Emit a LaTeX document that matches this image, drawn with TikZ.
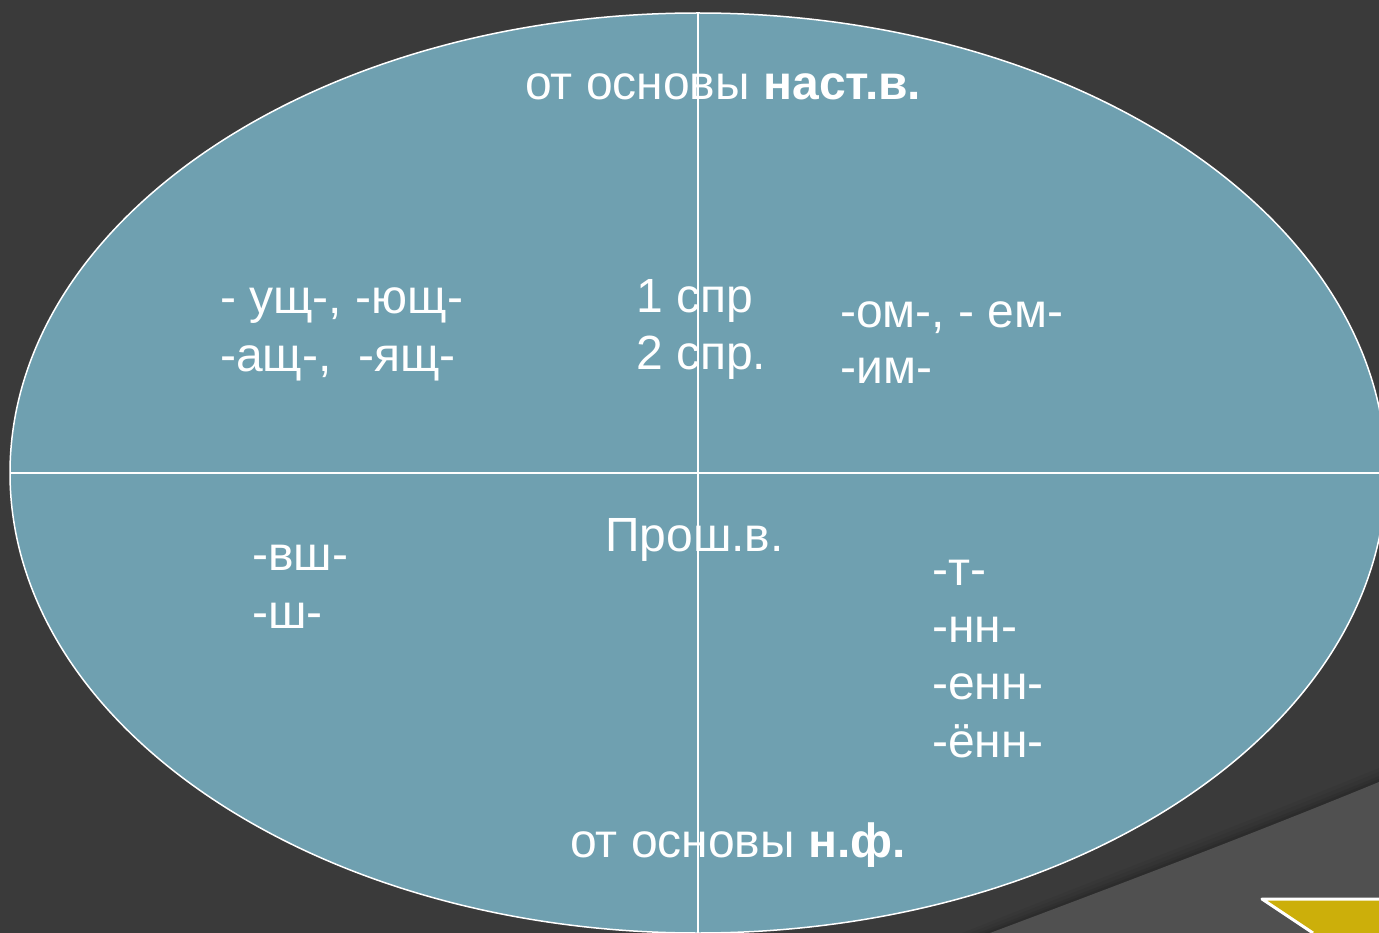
\documentclass[tikz,border=0pt]{standalone}
\usepackage{fontspec}
\setmainfont{Liberation Sans}
\definecolor{bgdark}{HTML}{3A3A3A}
\definecolor{swoosh}{HTML}{505050}
\definecolor{ellfill}{HTML}{6FA0B0}
\definecolor{triyellow}{HTML}{CCAF0A}
\tikzset{
  lbl/.style={anchor=base west, inner sep=0pt, text=white, font=\fontsize{48}{57}\selectfont},
  divider/.style={draw=white, line width=1.5pt},
}
\begin{document}
\begin{tikzpicture}[x=1pt,y=-1pt]
\useasboundingbox (0,0) rectangle (1379,933);
\clip (0,0) rectangle (1379,933);
% background
\fill[bgdark] (0,0) rectangle (1379,933);
% soft shadow above the swoosh
\foreach \d/\op in {14/0.04,10/0.05,6/0.06,3/0.07}{
  \fill[black, opacity=\op] (1379,782-\d) .. controls (1250,835-\d) and (1110,888-\d) .. (990-2*\d,933) -- (1379,933) -- cycle;
}
% lighter swoosh band
\fill[swoosh] (1379,782) .. controls (1250,835) and (1110,888) .. (990,933) -- (1379,933) -- cycle;
% triangle
\fill[triyellow] (1400,899) -- (1262,899) -- (1313,933) -- (1400,933) -- cycle;
\draw[white, line width=3pt, line join=round] (1400,899) -- (1262,899) -- (1313,933);
% ellipse
\fill[ellfill] (698,473) ellipse [x radius=688, y radius=460];
% texts
\node[lbl] (top) at (525,100) {от основы \textbf{наст.в.}};
\node[lbl] (l1) at (220,314) {- ущ-, -ющ-};
\node[lbl] (l2) at (220,371) {-ащ-,~~-ящ-};
\node[lbl] (c1) at (636,313) {1 спр};
\node[lbl] (c2) at (636,369) {2 спр.};
\node[lbl] (r1) at (840,327) {-ом-, - ем-};
\node[lbl] (r2) at (840,383) {-им-};
\node[lbl] (bl1) at (252,570) {-вш-};
\node[lbl] (bl2) at (252,628) {-ш-};
\node[lbl] (pr) at (605,551) {Прош.в.};
\node[lbl] (br1) at (932,585) {-т-};
\node[lbl] (br2) at (932,642) {-нн-};
\node[lbl] (br3) at (932,699) {-енн-};
\node[lbl] (br4) at (932,757) {-ённ-};
\node[lbl] (bot) at (570,857) {от основы \textbf{н.ф.}};
% dividers
\coordinate (vt) at (698,13);
\coordinate (vb) at (698,940);
\coordinate (hl) at (10,473);
\coordinate (hr) at (1390,473);
\draw[divider] (vt) -- (vb);
\draw[divider] (hl) -- (hr);
\draw[white, line width=1.5pt] (698,473) ellipse [x radius=688, y radius=460];
\end{tikzpicture}
\end{document}
